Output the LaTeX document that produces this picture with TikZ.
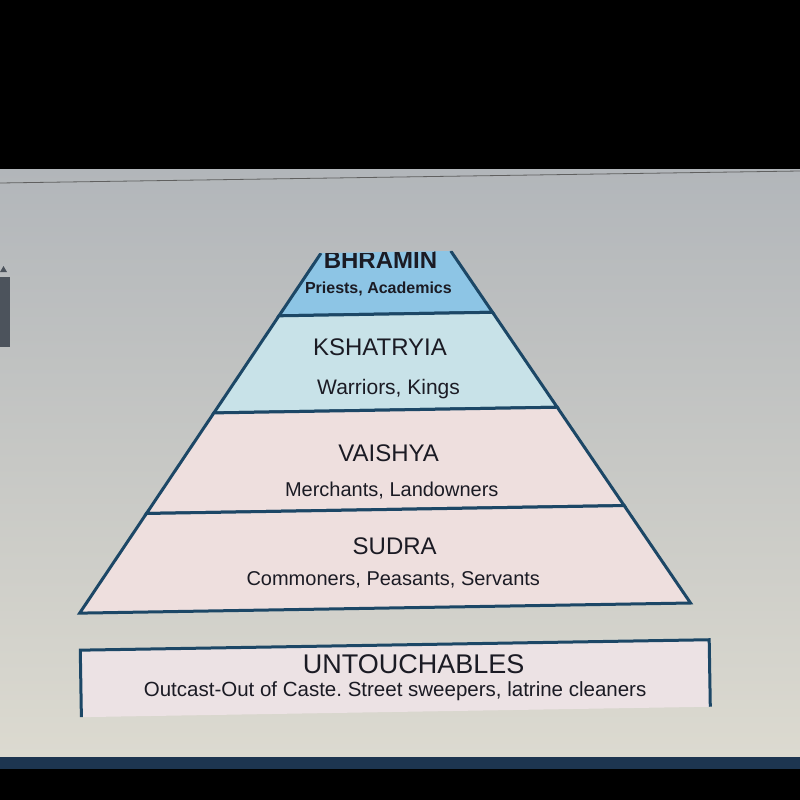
\documentclass[tikz,border=0pt]{standalone}
\usepackage{fontspec}
\setmainfont{Liberation Sans}
\usetikzlibrary{calc}
\frenchspacing
\definecolor{edge}{HTML}{1C4766}
\definecolor{ink}{HTML}{1B1B24}
\definecolor{bhr}{HTML}{8DC5E5}
\definecolor{ksh}{HTML}{C8E2E8}
\definecolor{low}{HTML}{EEDFDE}
\definecolor{outbox}{HTML}{ECE2E4}
\definecolor{scrtop}{HTML}{B2B6BA}
\definecolor{scrbot}{HTML}{DCDAD0}
\definecolor{band}{HTML}{1D3550}
\definecolor{bar}{HTML}{4C535C}

\begin{document}
\begin{tikzpicture}[x=1pt,y=-1pt]
\tikzstyle{tier}=[draw=edge,line width=3pt,line join=miter]
\tikzstyle{caste}=[anchor=base,inner sep=0pt,text=ink,font=\fontsize{24}{26}\selectfont]
\tikzstyle{role}=[anchor=base,inner sep=0pt,text=ink,font=\fontsize{20}{22}\selectfont]
\useasboundingbox (0,0) rectangle (800,800);
% screen photo background
\fill[black] (0,0) rectangle (800,800);
\shade[top color=scrtop,bottom color=scrbot] (0,169) rectangle (800,757);
\fill[band] (0,757) rectangle (800,769);
\draw[gray!75!black,line width=0.8pt] (0,183) -- (800,171);
\fill[bar] (0,277) rectangle (10,347);
\fill[bar] (0,272) -- (3.5,266) -- (7,272) -- cycle;
\begin{scope}[rotate around={0.95:(390,450)}]
\coordinate (apex) at (391,156);
\coordinate (bl) at (77,608);
\coordinate (br) at (688,608);
\foreach \n/\f in {t/0.2124,a/0.3496,b/0.562,c/0.782,d/1}{
  \coordinate (L\n) at ($(apex)!\f!(bl)$);
  \coordinate (R\n) at ($(apex)!\f!(br)$);
}
\begin{scope}
\clip (0,252) rectangle (800,800);
\filldraw[tier,fill=bhr] (Lt) -- (La) -- (Ra) -- (Rt);
\node[caste,font=\bfseries\fontsize{24}{26}\selectfont] (bhramin) at (383.5,268) {BHRAMIN};
\end{scope}
\node[caste,font=\bfseries\fontsize{16}{18}\selectfont] (priests) at (381,293) {Priests, Academics};
\filldraw[tier,fill=ksh] (La) -- (Lb) -- (Rb) -- (Ra) -- cycle;
\filldraw[tier,fill=low] (Lb) -- (Lc) -- (Rc) -- (Rb) -- cycle;
\filldraw[tier,fill=low] (Lc) -- (Ld) -- (Rd) -- (Rc) -- cycle;
\node[caste] (kshatryia) at (381.5,355) {KSHATRYIA};
\node[role,font=\fontsize{21}{23}\selectfont] (warriors) at (389.5,394) {Warriors, Kings};
\node[caste] (vaishya) at (388.5,461) {VAISHYA};
\node[role] (merchants) at (391,497) {Merchants, Landowners};
\node[caste] (sudra) at (393,555) {SUDRA};
\node[role] (commoners) at (391,586) {Commoners, Peasants, Servants};
% outcast box, cut off at the bottom of the screen
\filldraw[tier,fill=outbox] (77,712) -- (77,645) -- (706,645) -- (706,712);
\node[caste,font=\fontsize{27}{29}\selectfont] (untouch) at (410,674) {UNTOUCHABLES};
\node[role,font=\fontsize{20.5}{22}\selectfont] (outcast) at (391,697) {Outcast-Out of Caste. Street sweepers, latrine cleaners};
\end{scope}
\end{tikzpicture}
\end{document}
